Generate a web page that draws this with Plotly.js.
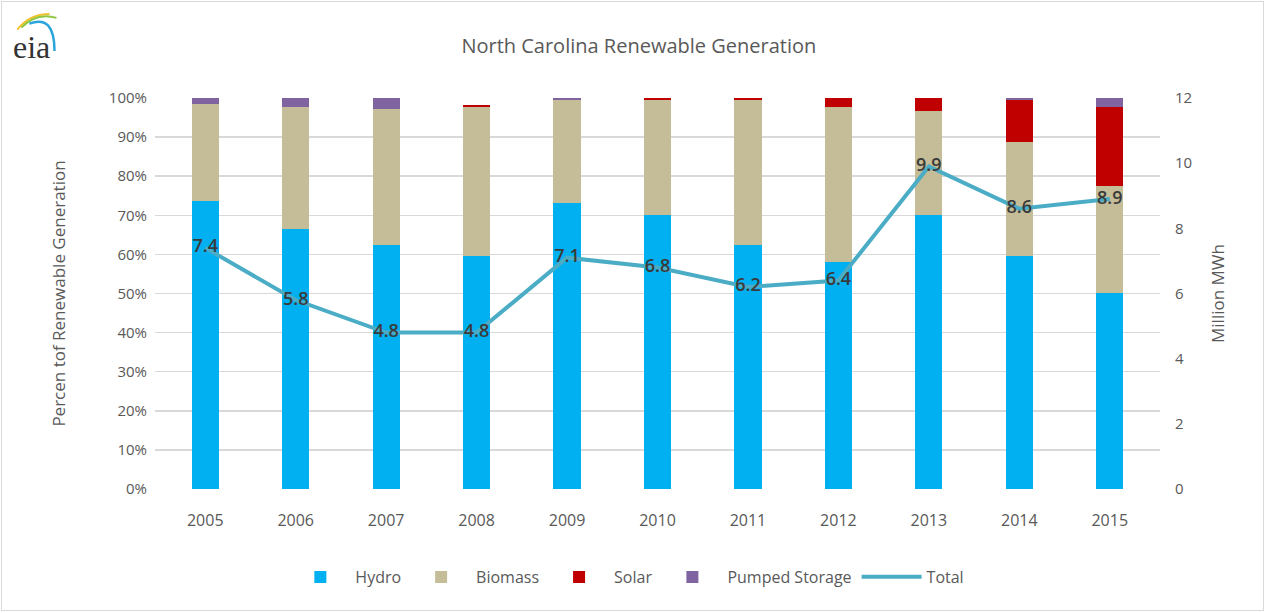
<!DOCTYPE html>
<html>
<head>
<meta charset="utf-8">
<script src="https://cdn.plot.ly/plotly-3.0.1.min.js"></script>
<style>
html,body{margin:0;padding:0;background:#fff;}
#chart{width:1265px;height:613px;position:relative;}
#frame{position:absolute;left:1px;top:1px;width:1261px;height:608px;border:1px solid #d9d9d9;pointer-events:none;}
</style>
</head>
<body>
<div style="position:relative;width:1265px;height:613px;">
<div id="chart"></div>
<div id="frame"></div>
</div>
<script>
const years = ['2005','2006','2007','2008','2009','2010','2011','2012','2013','2014','2015'];
const hydro = [73.6, 66.5, 62.4, 59.6, 73.1, 70.0, 62.4, 58.0, 70.0, 59.6, 50.1];
const biomass = [24.9, 31.2, 34.8, 38.1, 26.3, 29.6, 37.2, 39.7, 26.7, 29.1, 27.4];
const solar = [0, 0, 0, 0.5, 0, 0.4, 0.4, 2.3, 3.3, 10.8, 20.3];
const pumped = [1.5, 2.3, 2.8, 0, 0.6, 0, 0, 0, 0, 0.5, 2.2];
const total = [7.4, 5.8, 4.8, 4.8, 7.1, 6.8, 6.2, 6.4, 9.9, 8.6, 8.9];

const fontFam = '"Open Sans", "Noto Sans", sans-serif';
const bar = (name, y, color) => ({
  type: 'bar', name: name, x: years, y: y,
  marker: {color: color}, hoverinfo: 'skip'
});

const data = [
  bar('Hydro', hydro, '#00B0F0'),
  bar('Biomass', biomass, '#C4BD97'),
  bar('Solar', solar, '#C00000'),
  bar('Pumped Storage', pumped, '#8064A2'),
  {
    type: 'scatter', mode: 'lines+text', name: 'Total',
    x: years, y: total, yaxis: 'y2',
    text: total.map(v => v.toFixed(1)),
    textposition: 'middle center',
    textfont: {family: fontFam, size: 18, color: '#3a3a3a', weight: 600},
    line: {color: '#4BACC6', width: 4},
    hoverinfo: 'skip'
  }
];

const layout = {
  width: 1265, height: 613,
  margin: {l: 155, r: 105, t: 98, b: 124},
  paper_bgcolor: '#fff', plot_bgcolor: '#fff',
  barmode: 'stack', bargap: 0.70,
  font: {family: fontFam, color: '#595959', size: 15},
  title: {text: 'North Carolina Renewable Generation', x: 0.505, xanchor: 'center', y: 0.925, yanchor: 'middle',
          font: {family: fontFam, size: 20, color: '#595959'}},
  xaxis: {type: 'category', showgrid: false, zeroline: false, showline: false,
          tickfont: {size: 16, color: '#595959'}, ticks: '', ticklabelstandoff: 20},
  yaxis: {range: [0, 100], dtick: 10, ticksuffix: '%', showgrid: true, gridcolor: '#d9d9d9', gridwidth: 1.5,
          zeroline: false, showline: false, tickfont: {size: 15, color: '#595959'}, ticklabelstandoff: 7,
          title: {text: 'Percen tof Renewable Generation', font: {size: 17, color: '#595959'}, standoff: 38}},
  yaxis2: {range: [0, 12], dtick: 2, overlaying: 'y', side: 'right', showgrid: false, zeroline: false,
           showline: false, tickfont: {size: 15, color: '#595959'}, ticklabelstandoff: 14,
           title: {text: 'Million MWh', font: {size: 17, color: '#595959'}, standoff: 20}},
  legend: {orientation: 'h', x: 0.47, xanchor: 'center', y: -0.225, yanchor: 'middle',
           font: {size: 16, color: '#595959'}, traceorder: 'normal', itemwidth: 60},
  showlegend: true,
  annotations: [
    {text: 'eia', xref: 'paper', yref: 'paper', x: -0.143, y: 1.13, xanchor: 'left', yanchor: 'middle',
     showarrow: false, font: {family: '"Liberation Serif", "DejaVu Serif", serif', size: 32, color: '#333'}}
  ],
  shapes: [
    {type: 'path', xref: 'paper', yref: 'paper',
     path: 'M -0.137 1.175 Q -0.125 1.215 -0.105 1.215', line: {color: '#F2C12E', width: 2}},
    {type: 'path', xref: 'paper', yref: 'paper',
     path: 'M -0.133 1.18 Q -0.118 1.22 -0.098 1.205', line: {color: '#8DC63F', width: 2}},
    {type: 'path', xref: 'paper', yref: 'paper',
     path: 'M -0.125 1.19 Q -0.1 1.215 -0.1 1.12', line: {color: '#2AA5DC', width: 2.5}}
  ]
};

Plotly.newPlot('chart', data, layout, {displayModeBar: false, staticPlot: true});
</script>
</body>
</html>
